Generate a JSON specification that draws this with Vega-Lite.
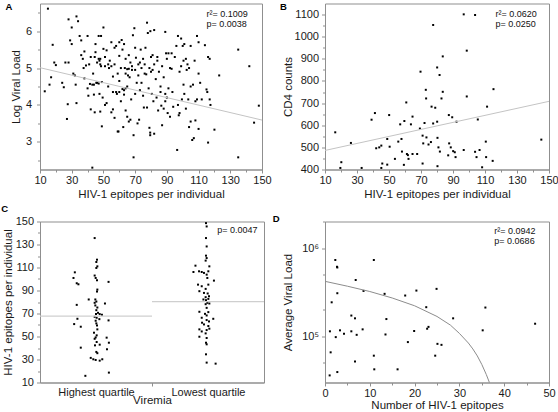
{
"$schema":"https://vega.github.io/schema/vega-lite/v6.json",
"background":"white",
"padding":{"left":0,"top":1.5,"right":0,"bottom":0},
"bounds":"flush",
"columns":2,
"spacing":{"row":52,"column":61},
"config":{
"view":{"stroke":"#8f8f8f","strokeWidth":1},
"font":"Liberation Sans",
"axis":{"domainColor":"#8f8f8f","tickColor":"#8f8f8f","tickSize":3.5,"labelFontSize":11,"labelColor":"#1a1a1a","titleFontSize":11.5,"titleFontWeight":"normal","titleColor":"#1a1a1a","labelPadding":2,"grid":false,"labelOverlap":false,"labelFlush":false},
"title":{"fontSize":9.5,"fontWeight":"bold","anchor":"start","frame":"bounds","color":"#000"}
},
"datasets":{
"a":[{"x":13,"y":4.37},{"x":15,"y":6.61},{"x":16,"y":4.55},{"x":17,"y":4.75},{"x":18,"y":5.63},{"x":19,"y":5.15},{"x":20,"y":5.08},{"x":24,"y":4.6},{"x":25,"y":4.48},{"x":26,"y":5.15},{"x":27,"y":3.62},{"x":27.5,"y":4.02},{"x":28,"y":5.15},{"x":28,"y":6.32},{"x":29,"y":5.75},{"x":30,"y":5.65},{"x":30,"y":6.1},{"x":31,"y":4.85},{"x":32,"y":4.8},{"x":32.5,"y":4.55},{"x":33,"y":6.4},{"x":33,"y":4.05},{"x":34,"y":6.27},{"x":35,"y":5.87},{"x":36,"y":5.75},{"x":36,"y":5.35},{"x":37,"y":5.25},{"x":37.5,"y":5.0},{"x":38,"y":4.72},{"x":38,"y":5.45},{"x":40,"y":5.87},{"x":40,"y":4.45},{"x":40.5,"y":4.25},{"x":41,"y":5.1},{"x":42,"y":3.88},{"x":42,"y":5.3},{"x":43,"y":2.3},{"x":43.5,"y":4.85},{"x":44,"y":4.55},{"x":44,"y":4.28},{"x":44.5,"y":3.8},{"x":45,"y":5.43},{"x":45,"y":5.65},{"x":46,"y":4.6},{"x":46,"y":5.15},{"x":47,"y":5.87},{"x":47,"y":4.58},{"x":47.5,"y":4.3},{"x":48,"y":3.82},{"x":48,"y":5.25},{"x":48,"y":5.1},{"x":48.5,"y":5.87},{"x":48.5,"y":5.05},{"x":49,"y":3.42},{"x":49,"y":4.62},{"x":49.5,"y":4.2},{"x":50,"y":6.1},{"x":50,"y":5.52},{"x":51,"y":4.0},{"x":51,"y":5.05},{"x":52,"y":5.48},{"x":52,"y":4.05},{"x":53,"y":4.5},{"x":53.5,"y":5.0},{"x":54,"y":5.2},{"x":55,"y":5.7},{"x":55,"y":5.05},{"x":56,"y":3.88},{"x":56,"y":4.77},{"x":57,"y":5.1},{"x":57,"y":3.65},{"x":58,"y":4.35},{"x":58,"y":5.6},{"x":58.5,"y":4.3},{"x":59,"y":3.28},{"x":59.5,"y":3.28},{"x":60,"y":4.65},{"x":60,"y":5.33},{"x":61,"y":5.0},{"x":61,"y":4.1},{"x":61.5,"y":5.76},{"x":62,"y":4.43},{"x":62,"y":5.5},{"x":62.5,"y":3.4},{"x":63,"y":4.4},{"x":63,"y":5.65},{"x":63.5,"y":5.0},{"x":64,"y":4.85},{"x":64,"y":3.85},{"x":65,"y":4.5},{"x":65,"y":3.68},{"x":65.5,"y":4.8},{"x":66,"y":5.35},{"x":66,"y":3.55},{"x":66.5,"y":4.75},{"x":67,"y":5.15},{"x":67,"y":3.6},{"x":67.5,"y":4.15},{"x":68,"y":5.05},{"x":68,"y":4.95},{"x":68.6,"y":5.89},{"x":69,"y":3.18},{"x":69,"y":2.58},{"x":69.5,"y":6.08},{"x":70,"y":4.3},{"x":70,"y":5.55},{"x":70.5,"y":5.28},{"x":71,"y":4.6},{"x":71.5,"y":3.5},{"x":72,"y":4.8},{"x":72,"y":5.1},{"x":72.5,"y":3.6},{"x":73,"y":5.15},{"x":73,"y":4.4},{"x":74,"y":5.0},{"x":74,"y":4.6},{"x":75,"y":5.25},{"x":75,"y":4.25},{"x":75.5,"y":3.93},{"x":76,"y":5.1},{"x":76,"y":4.85},{"x":76.5,"y":5.55},{"x":77,"y":4.83},{"x":77.5,"y":6.23},{"x":77.5,"y":3.93},{"x":78,"y":5.95},{"x":78.5,"y":4.45},{"x":79,"y":5.0},{"x":79,"y":3.38},{"x":79.5,"y":3.25},{"x":79.5,"y":3.18},{"x":79.6,"y":6.0},{"x":80,"y":5.3},{"x":80,"y":4.9},{"x":80.5,"y":4.3},{"x":81,"y":4.95},{"x":81,"y":5.35},{"x":81.5,"y":4.1},{"x":82,"y":6.03},{"x":82,"y":5.1},{"x":82,"y":3.22},{"x":83,"y":4.7},{"x":83.5,"y":4.2},{"x":84,"y":5.2},{"x":84.5,"y":3.85},{"x":85,"y":4.9},{"x":86,"y":4.5},{"x":86,"y":4.35},{"x":86.5,"y":3.98},{"x":87,"y":5.05},{"x":87,"y":3.45},{"x":88,"y":4.75},{"x":88,"y":3.9},{"x":89,"y":5.98},{"x":89,"y":4.1},{"x":89.5,"y":5.4},{"x":90,"y":5.25},{"x":90,"y":4.2},{"x":90.5,"y":3.78},{"x":91,"y":4.45},{"x":92,"y":5.0},{"x":92,"y":3.68},{"x":93,"y":5.4},{"x":93,"y":4.98},{"x":93.5,"y":4.35},{"x":94,"y":3.95},{"x":95,"y":5.3},{"x":96,"y":5.6},{"x":96.5,"y":2.78},{"x":97,"y":5.87},{"x":97,"y":4.0},{"x":97.5,"y":3.72},{"x":98,"y":4.9},{"x":98,"y":3.78},{"x":99,"y":5.8},{"x":99,"y":5.05},{"x":99.5,"y":4.15},{"x":100,"y":5.6},{"x":100.5,"y":5.2},{"x":100.5,"y":4.55},{"x":101,"y":5.65},{"x":101,"y":4.3},{"x":102,"y":5.25},{"x":102,"y":3.9},{"x":102.5,"y":4.95},{"x":103,"y":5.1},{"x":103.5,"y":4.15},{"x":104,"y":5.0},{"x":104,"y":3.4},{"x":105,"y":5.6},{"x":105,"y":4.5},{"x":105,"y":3.55},{"x":106,"y":3.05},{"x":106.5,"y":4.55},{"x":107,"y":3.1},{"x":107.5,"y":5.2},{"x":108,"y":3.58},{"x":108,"y":4.1},{"x":109,"y":5.87},{"x":109,"y":4.15},{"x":110,"y":5.7},{"x":110,"y":4.85},{"x":110,"y":3.35},{"x":111,"y":4.6},{"x":112,"y":4.15},{"x":114,"y":5.62},{"x":115,"y":4.42},{"x":115.5,"y":4.35},{"x":116,"y":5.3},{"x":116,"y":2.98},{"x":117,"y":5.25},{"x":117,"y":4.15},{"x":117.5,"y":4.0},{"x":120,"y":3.33},{"x":123,"y":4.8},{"x":135,"y":5.5},{"x":135,"y":2.58},{"x":142,"y":5.05},{"x":145,"y":3.52},{"x":148,"y":3.98},{"x":39,"y":5.07},{"x":41.5,"y":4.57},{"x":43,"y":4.55},{"x":44.5,"y":5.3},{"x":47,"y":5.25},{"x":47.5,"y":5.2},{"x":51,"y":5.3},{"x":53,"y":5.1},{"x":45.5,"y":4.6},{"x":57,"y":5.55},{"x":60,"y":5.7},{"x":64,"y":4.45},{"x":65,"y":4.97},{"x":55,"y":3.8},{"x":56,"y":4.35},{"x":59,"y":4.85},{"x":60,"y":4.35},{"x":63,"y":4.28},{"x":70,"y":4.95},{"x":73.5,"y":5.5},{"x":64,"y":5.25},{"x":66,"y":4.98},{"x":84,"y":5.3},{"x":89,"y":4.3},{"x":91,"y":5.4}],
"b":[{"x":16.4,"y":568},{"x":19.6,"y":407},{"x":20.2,"y":433},{"x":26.2,"y":520},{"x":32.9,"y":407},{"x":39.1,"y":625},{"x":41.2,"y":655},{"x":42,"y":496},{"x":43.9,"y":500},{"x":45.2,"y":508},{"x":45.8,"y":427},{"x":45.2,"y":407},{"x":48.9,"y":422},{"x":48.9,"y":538},{"x":50.1,"y":646},{"x":50.4,"y":503},{"x":53.7,"y":448},{"x":55.8,"y":526},{"x":57,"y":604},{"x":57.8,"y":538},{"x":58.1,"y":481},{"x":59.3,"y":421},{"x":59.6,"y":619},{"x":60.8,"y":703},{"x":61.2,"y":470},{"x":61.8,"y":465},{"x":62.2,"y":448},{"x":63.7,"y":604},{"x":64.7,"y":639},{"x":64.7,"y":470},{"x":67.6,"y":470},{"x":69.3,"y":585},{"x":69.7,"y":842},{"x":71,"y":553},{"x":71,"y":427},{"x":71.4,"y":518},{"x":72.2,"y":610},{"x":73,"y":760},{"x":73.2,"y":721},{"x":73.4,"y":545},{"x":74.7,"y":513},{"x":76.2,"y":524},{"x":76.6,"y":684},{"x":77.6,"y":608},{"x":77.6,"y":1053},{"x":78.9,"y":679},{"x":80.1,"y":861},{"x":80.1,"y":616},{"x":80.3,"y":543},{"x":80.3,"y":415},{"x":80.9,"y":500},{"x":81.6,"y":827},{"x":81.8,"y":481},{"x":82.8,"y":721},{"x":83.6,"y":751},{"x":83.6,"y":911},{"x":87,"y":464},{"x":87.4,"y":646},{"x":87.6,"y":518},{"x":88.6,"y":500},{"x":89.5,"y":636},{"x":90.1,"y":483},{"x":91.1,"y":478},{"x":91.6,"y":456},{"x":92.2,"y":616},{"x":96.7,"y":1101},{"x":96.7,"y":488},{"x":98.6,"y":730},{"x":98.6,"y":937},{"x":103.8,"y":1098},{"x":103.8,"y":480},{"x":104.7,"y":456},{"x":105.5,"y":626},{"x":106.6,"y":488},{"x":108.2,"y":410},{"x":110.5,"y":526},{"x":110.7,"y":456},{"x":111.3,"y":684},{"x":114.8,"y":439},{"x":115.3,"y":763},{"x":145.2,"y":535}],
"c":[{"pos":0.488,"y":135.6},{"pos":0.509,"y":116.8},{"pos":0.503,"y":114.8},{"pos":0.512,"y":111},{"pos":0.503,"y":109.6},{"pos":0.311,"y":105.8},{"pos":0.488,"y":103},{"pos":0.299,"y":100.9},{"pos":0.497,"y":100.9},{"pos":0.509,"y":98.9},{"pos":0.612,"y":97.5},{"pos":0.328,"y":96.3},{"pos":0.343,"y":95.4},{"pos":0.512,"y":90.8},{"pos":0.509,"y":89.1},{"pos":0.435,"y":82.2},{"pos":0.494,"y":82.2},{"pos":0.503,"y":80.4},{"pos":0.488,"y":79.3},{"pos":0.328,"y":77.5},{"pos":0.58,"y":78.7},{"pos":0.494,"y":77},{"pos":0.512,"y":75.2},{"pos":0.503,"y":72.9},{"pos":0.518,"y":70.6},{"pos":0.5,"y":69.5},{"pos":0.533,"y":69.5},{"pos":0.488,"y":67.1},{"pos":0.553,"y":68.9},{"pos":0.506,"y":66.3},{"pos":0.334,"y":65.4},{"pos":0.53,"y":65.1},{"pos":0.497,"y":63.7},{"pos":0.612,"y":64},{"pos":0.305,"y":60.8},{"pos":0.364,"y":58.5},{"pos":0.503,"y":61.4},{"pos":0.509,"y":59.6},{"pos":0.512,"y":56.2},{"pos":0.482,"y":53.3},{"pos":0.506,"y":51},{"pos":0.497,"y":49.2},{"pos":0.488,"y":48},{"pos":0.595,"y":49},{"pos":0.506,"y":45.2},{"pos":0.615,"y":44.6},{"pos":0.491,"y":42.3},{"pos":0.533,"y":42.9},{"pos":0.598,"y":38.9},{"pos":0.364,"y":40.3},{"pos":0.503,"y":36.6},{"pos":0.512,"y":35.5},{"pos":0.453,"y":31.4},{"pos":0.476,"y":30.2},{"pos":0.497,"y":29.6},{"pos":0.556,"y":30.2},{"pos":0.533,"y":29},{"pos":0.405,"y":15.8},{"pos":0.615,"y":18.6},
{"pos":1.482,"y":148.6},{"pos":1.488,"y":145.7},{"pos":1.482,"y":135.6},{"pos":1.488,"y":128.3},{"pos":1.482,"y":120.3},{"pos":1.488,"y":118.2},{"pos":1.479,"y":116},{"pos":1.388,"y":111.6},{"pos":1.512,"y":111},{"pos":1.42,"y":106.7},{"pos":1.37,"y":106.1},{"pos":1.444,"y":106.1},{"pos":1.464,"y":105.3},{"pos":1.503,"y":106.7},{"pos":1.488,"y":103.8},{"pos":1.494,"y":100.9},{"pos":1.553,"y":98.6},{"pos":1.411,"y":95.1},{"pos":1.444,"y":93.7},{"pos":1.503,"y":95.1},{"pos":1.479,"y":91.4},{"pos":1.423,"y":89.4},{"pos":1.464,"y":87.9},{"pos":1.497,"y":87.4},{"pos":1.509,"y":85},{"pos":1.479,"y":84.2},{"pos":1.459,"y":82.2},{"pos":1.482,"y":81.6},{"pos":1.503,"y":82.7},{"pos":1.494,"y":79.3},{"pos":1.479,"y":78.1},{"pos":1.512,"y":78.7},{"pos":1.488,"y":74.9},{"pos":1.423,"y":71.5},{"pos":1.473,"y":69.7},{"pos":1.488,"y":68.3},{"pos":1.503,"y":71.2},{"pos":1.444,"y":66.3},{"pos":1.547,"y":65.4},{"pos":1.488,"y":64.3},{"pos":1.509,"y":63.1},{"pos":1.447,"y":62},{"pos":1.464,"y":60.5},{"pos":1.503,"y":59.1},{"pos":1.423,"y":56.2},{"pos":1.488,"y":55.6},{"pos":1.444,"y":54.4},{"pos":1.512,"y":56.8},{"pos":1.479,"y":52.7},{"pos":1.423,"y":49.8},{"pos":1.488,"y":48.7},{"pos":1.482,"y":44.6},{"pos":1.488,"y":43.2},{"pos":1.482,"y":34.5},{"pos":1.488,"y":27.3},{"pos":1.568,"y":26.4}],
"d":[{"x":1.04,"y":36100},{"x":1.1,"y":114000},{"x":1.26,"y":65900},{"x":1.49,"y":243000},{"x":2.3,"y":733000},{"x":2.4,"y":98000},{"x":2.68,"y":614000},{"x":2.75,"y":603000},{"x":2.75,"y":308000},{"x":2.75,"y":39400},{"x":3.35,"y":117000},{"x":4.24,"y":107000},{"x":5.88,"y":172000},{"x":5.88,"y":114000},{"x":6.7,"y":160000},{"x":6.7,"y":51900},{"x":6.85,"y":435000},{"x":7.07,"y":104000},{"x":8.4,"y":120000},{"x":8.6,"y":327000},{"x":10.9,"y":60400},{"x":10.9,"y":733000},{"x":11.0,"y":42300},{"x":13.3,"y":303000},{"x":13.5,"y":105000},{"x":13.7,"y":157000},{"x":16.2,"y":42300},{"x":17.9,"y":290000},{"x":18.5,"y":86100},{"x":19.9,"y":115000},{"x":20.4,"y":330000},{"x":22.6,"y":214000},{"x":22.8,"y":122000},{"x":23.1,"y":128000},{"x":24.6,"y":60400},{"x":24.9,"y":345000},{"x":25.1,"y":82200},{"x":26.0,"y":80100},{"x":28.6,"y":160000},{"x":35.2,"y":117000},{"x":35.8,"y":212000},{"x":46.9,"y":139000}],
"dfit":[{"x":0,"y":420000},{"x":5,"y":370000},{"x":10,"y":322000},{"x":15,"y":272000},{"x":20,"y":222000},{"x":25,"y":168000},{"x":28,"y":134000},{"x":30,"y":108000},{"x":32,"y":84000},{"x":33,"y":72000},{"x":34,"y":60000},{"x":35,"y":48000},{"x":36,"y":37000},{"x":36.7,"y":30000},{"x":37,"y":27000}]
},
"concat":[
{"width":222,"height":166,"title":{"text":"A","offset":-8.3,"dx":-5},
"resolve":{"axis":{"x":"independent","y":"independent"}},
"layer":[
{"data":{"name":"a"},"mark":{"type":"square","size":4,"color":"#000","opacity":1},
"encoding":{
"x":{"field":"x","type":"quantitative","scale":{"domain":[10,150],"nice":false,"zero":false},"axis":{"orient":"bottom","title":"HIV-1 epitopes per individual","values":[10,30,50,70,90,110,130,150],"labelOverlap":false,"labelPadding":1,"titlePadding":3}},
"y":{"field":"y","type":"quantitative","scale":{"domain":[2.25,6.75],"nice":false,"zero":false},"axis":{"orient":"left","title":"Log Viral Load","values":[3,4,5,6],"format":"d","labelOverlap":false,"labelPadding":5,"titlePadding":4}}}},
{"data":{"values":[{"x":10,"y":5.01},{"x":150,"y":3.59}]},"mark":{"type":"line","color":"#c4c4c4","strokeWidth":1},"encoding":{
"x":{"field":"x","type":"quantitative","axis":{"orient":"bottom","values":[20,40,60,80,100,120,140],"labels":false,"domain":false,"title":null,"tickSize":2.5}},
"y":{"field":"y","type":"quantitative","axis":{"orient":"left","values":[2.5,3.5,4.5,5.5,6.5],"labels":false,"domain":false,"title":null,"tickSize":2.5}}}},
{"data":{"values":[{}]},"mark":{"type":"text","align":"left","baseline":"top","fontSize":9,"lineHeight":10.5,"color":"#111"},"encoding":{"x":{"datum":115,"axis":null},"y":{"datum":6.58,"axis":null},"text":{"value":["r²= 0.1009","p= 0.0038"]}}}
]},
{"width":224,"height":166,"title":{"text":"B","offset":-8.3,"dx":-2},
"resolve":{"axis":{"x":"independent","y":"independent"}},
"layer":[
{"data":{"name":"b"},"mark":{"type":"square","size":4,"color":"#000","opacity":1},
"encoding":{
"x":{"field":"x","type":"quantitative","scale":{"domain":[10,150],"nice":false,"zero":false},"axis":{"orient":"bottom","title":"HIV-1 epitopes per individual","values":[10,30,50,70,90,110,130,150],"labelOverlap":false,"labelPadding":1,"titlePadding":3}},
"y":{"field":"y","type":"quantitative","scale":{"domain":[400,1150],"nice":false,"zero":false},"axis":{"orient":"left","title":"CD4 counts","format":"d","values":[400,500,600,700,800,900,1000,1100],"labelOverlap":false,"labelPadding":3,"titlePadding":1}}}},
{"data":{"values":[{"x":10,"y":486},{"x":150,"y":708}]},"mark":{"type":"line","color":"#c4c4c4","strokeWidth":1},"encoding":{
"x":{"field":"x","type":"quantitative","axis":{"orient":"bottom","values":[20,40,60,80,100,120,140],"labels":false,"domain":false,"title":null,"tickSize":2.5}},
"y":{"field":"y","type":"quantitative","axis":{"orient":"left","values":[450,550,650,750,850,950,1050],"labels":false,"domain":false,"title":null,"tickSize":2.5}}}},
{"data":{"values":[{}]},"mark":{"type":"text","align":"left","baseline":"top","fontSize":9,"lineHeight":10.5,"color":"#111"},"encoding":{"x":{"datum":116.5,"axis":null},"y":{"datum":1122,"axis":null},"text":{"value":["r²= 0.0620","p= 0.0250"]}}}
]},
{"width":224,"height":161,"title":{"text":"C","offset":2,"dx":-1},
"resolve":{"axis":{"x":"independent","y":"independent"}},
"layer":[
{"data":{"name":"c"},"mark":{"type":"square","size":4,"color":"#000","opacity":1},
"encoding":{
"x":{"field":"pos","type":"quantitative","scale":{"domain":[0,2],"nice":false,"zero":false},"axis":{"orient":"bottom","title":"Viremia","values":[0.5,1.5],"ticks":false,"labelExpr":"datum.value < 1 ? 'Highest quartile' : 'Lowest quartile'","labelOverlap":false,"labelPadding":4,"titlePadding":-3}},
"y":{"field":"y","type":"quantitative","scale":{"domain":[10,150],"nice":false,"zero":false},"axis":{"orient":"left","title":"HIV-1 epitopes per individual","values":[10,30,50,70,90,110,130,150],"labelOverlap":false,"labelPadding":3,"titlePadding":2}}}},
{"data":{"values":[{"a":0,"b":1,"y":67.7},{"a":1,"b":2,"y":80.4}]},"mark":{"type":"rule","color":"#cfcfcf","strokeWidth":1.2},"encoding":{
"x":{"field":"a","type":"quantitative","axis":{"orient":"bottom","values":[1],"labels":false,"domain":false,"title":null,"tickSize":3.5}},
"x2":{"field":"b"},
"y":{"field":"y","type":"quantitative","axis":{"orient":"left","values":[20,40,60,80,100,120,140],"labels":false,"domain":false,"title":null,"tickSize":2.5}}}},
{"data":{"values":[{}]},"mark":{"type":"text","align":"left","baseline":"top","fontSize":9,"color":"#111"},"encoding":{"x":{"datum":1.583,"axis":null},"y":{"datum":146.5,"axis":null},"text":{"value":"p= 0.0047"}}}
]},
{"width":224,"height":161,"title":{"text":"D","offset":-2.5,"dx":-10},
"resolve":{"axis":{"x":"independent","y":"independent"}},
"layer":[
{"data":{"name":"d"},"mark":{"type":"square","size":4,"color":"#000","opacity":1},
"encoding":{
"x":{"field":"x","type":"quantitative","scale":{"domain":[0,50],"nice":false,"zero":false},"axis":{"orient":"bottom","title":"Number of HIV-1 epitopes","values":[0,10,20,30,40,50],"labelOverlap":false,"labelPadding":1,"titlePadding":1}},
"y":{"field":"y","type":"quantitative","scale":{"type":"log","domain":[30000,2000000],"nice":false},"axis":{"orient":"left","title":"Average Viral Load","values":[100000,1000000],"labelExpr":"datum.value < 500000 ? '10⁵' : '10⁶'","labelOverlap":false,"labelPadding":3,"titlePadding":8}}}},
{"data":{"name":"dfit"},"mark":{"type":"line","color":"#8c8c8c","strokeWidth":1,"clip":true},"encoding":{
"x":{"field":"x","type":"quantitative","axis":{"orient":"bottom","values":[5,15,25,35,45],"labels":false,"domain":false,"title":null,"tickSize":2.5}},
"y":{"field":"y","type":"quantitative","axis":{"orient":"left","values":[50000,200000,500000,2000000],"labels":false,"domain":false,"title":null,"tickSize":2.5}}}},
{"data":{"values":[{}]},"mark":{"type":"text","align":"left","baseline":"top","fontSize":9,"lineHeight":10.5,"color":"#111"},"encoding":{"x":{"datum":37.8,"axis":null},"y":{"datum":1750000,"axis":null},"text":{"value":["r²= 0.0942","p= 0.0686"]}}}
]}
]
}
